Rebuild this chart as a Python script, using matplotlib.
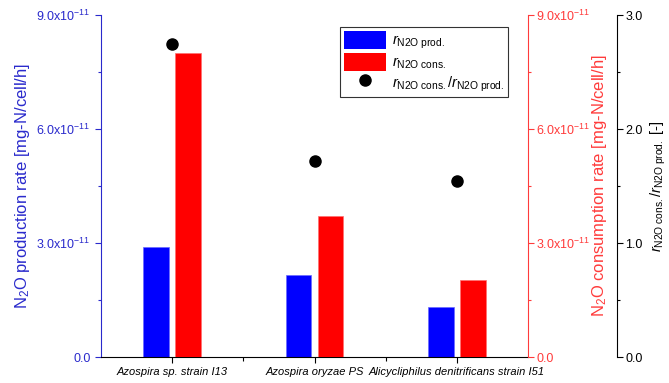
import numpy as np
import matplotlib
matplotlib.use("Agg")
import matplotlib.pyplot as plt
from matplotlib.patches import Patch
from matplotlib.lines import Line2D
from matplotlib.ticker import FixedLocator, MultipleLocator

plt.rcParams["font.family"] = ["Liberation Sans", "DejaVu Sans"]
plt.rcParams["mathtext.fontset"] = "custom"
plt.rcParams["mathtext.rm"] = "Liberation Sans"
plt.rcParams["mathtext.it"] = "Liberation Sans:italic"
plt.rcParams["mathtext.bf"] = "Liberation Sans:bold"

strains = ["Azospira sp. strain I13", "Azospira oryzae PS", "Alicycliphilus denitrificans strain I51"]
prod_rate = [2.90e-11, 2.15e-11, 1.31e-11]   # mg-N/cell/h
cons_rate = [8.01e-11, 3.70e-11, 2.03e-11]   # mg-N/cell/h
ratio = [2.75, 1.72, 1.54]

rate_ticks = [0.0, 3.0e-11, 6.0e-11, 9.0e-11]
rate_labels = ["0.0", r"3.0x10$^{-11}$", r"6.0x10$^{-11}$", r"9.0x10$^{-11}$"]

C_BLUE, C_RED = "#0000ff", "#ff0000"
C_BAX, C_RAX = "#2a2acc", "#ff3b3b"

fig = plt.figure(figsize=(6.69, 3.83), dpi=100)
ax1 = fig.add_axes([101 / 669, 26 / 383, 427 / 669, 342 / 383])
ax2 = ax1.twinx()
ax3 = ax1.twinx()

x = np.arange(len(strains))
w = 0.18
ax1.bar(x - 0.113, prod_rate, w, color=C_BLUE, edgecolor="#6a6aff", lw=0.5)
ax2.bar(x + 0.113, cons_rate, w, color=C_RED, edgecolor="#ff7070", lw=0.5)
ax3.plot(x, ratio, "o", color="black", ms=8, zorder=5)

ax1.set_xlim(-0.5, 2.5)
for ax in (ax1, ax2):
    ax.set_ylim(0, 9.0e-11)
    ax.yaxis.set_major_locator(FixedLocator(rate_ticks))
    ax.yaxis.set_minor_locator(MultipleLocator(1.5e-11))
ax1.set_yticklabels(rate_labels)
ax2.set_yticklabels(rate_labels)
ax3.set_ylim(0, 3.0)
ax3.yaxis.set_major_locator(MultipleLocator(1.0))
ax3.yaxis.set_minor_locator(MultipleLocator(0.5))
ax3.yaxis.set_major_formatter(lambda v, p: f"{v:.1f}")

ax1.set_xticks(x)
ax1.set_xticklabels(strains, fontsize=8, style="italic")
ax1.xaxis.set_minor_locator(FixedLocator([0.5, 1.5]))
ax1.tick_params(axis="x", which="major", length=4, width=0.8, pad=3)
ax1.tick_params(axis="x", which="minor", length=3, width=0.8)

for ax in (ax1, ax2, ax3):
    ax.spines["top"].set_visible(False)
ax1.spines["right"].set_visible(False)
ax2.spines["left"].set_visible(False)
ax2.spines["bottom"].set_visible(False)
ax3.spines["left"].set_visible(False)
ax3.spines["bottom"].set_visible(False)
ax3.spines["right"].set_position(("axes", (617 - 101) / 427))

ax1.spines["left"].set_color(C_BAX)
ax2.spines["right"].set_color(C_RAX)
ax3.spines["right"].set_color("black")

ax1.tick_params(axis="y", which="major", colors=C_BAX, labelsize=9, length=4, width=0.8)
ax1.tick_params(axis="y", which="minor", colors=C_BAX, length=2.5, width=0.8)
ax2.tick_params(axis="y", which="major", colors=C_RAX, labelsize=9, length=4, width=0.8, pad=2)
ax2.tick_params(axis="y", which="minor", colors=C_RAX, length=2.5, width=0.8)
ax3.tick_params(axis="y", which="major", colors="black", labelsize=9, length=4, width=0.8, pad=2)
ax3.tick_params(axis="y", which="minor", colors="black", length=2.5, width=0.8)

ax1.set_ylabel("N$_2$O production rate [mg-N/cell/h]", color=C_BAX, fontsize=12, labelpad=3)
ax2.set_ylabel("N$_2$O consumption rate [mg-N/cell/h]", color=C_RAX, fontsize=12, labelpad=0)
ax3.set_ylabel(r"$r_{\mathrm{N2O\ cons.}}/r_{\mathrm{N2O\ prod.}}$ [-]", color="black",
               fontsize=10.5, labelpad=4)

handles = [Patch(fc=C_BLUE, ec="none"), Patch(fc=C_RED, ec="none"),
           Line2D([], [], ls="none", marker="o", color="black", ms=8)]
labels = [r"$r_{\mathrm{N2O\ prod.}}$", r"$r_{\mathrm{N2O\ cons.}}$",
          r"$r_{\mathrm{N2O\ cons.}}/r_{\mathrm{N2O\ prod.}}$"]
leg = ax3.legend(handles, labels, loc="upper right", bbox_to_anchor=(0.953, 0.964),
                 fontsize=10.5, frameon=True, fancybox=False, edgecolor="black",
                 handlelength=2.9, handleheight=1.5, handletextpad=0.4,
                 labelspacing=0.15, borderpad=0.25, borderaxespad=0)
leg.get_frame().set_linewidth(0.8)

fig.savefig("out.png", dpi=100)
